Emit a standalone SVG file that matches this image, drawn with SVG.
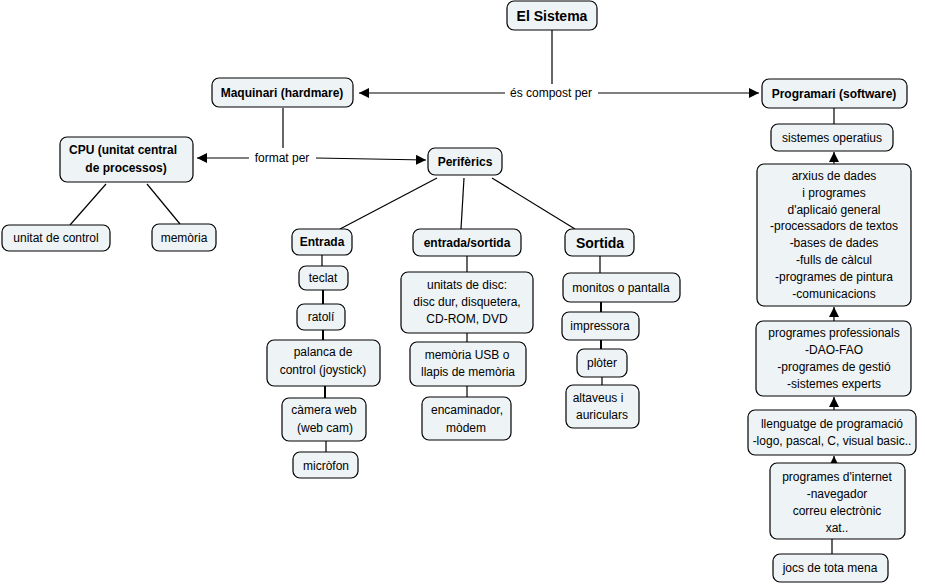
<svg xmlns="http://www.w3.org/2000/svg" width="925" height="585" viewBox="0 0 925 585">
<style>
.n{fill:#eef3f5;stroke:#000;stroke-width:1.2}
text{font-family:"Liberation Sans",Arial,sans-serif;font-size:12px;text-anchor:middle;fill:#000}
.b{font-weight:bold}
.c{stroke:#000;stroke-width:1.2;fill:none}
.t{stroke:#000;stroke-width:2;fill:none}
</style>
<defs>
<marker id="a" viewBox="0 0 10 10" refX="10" refY="5" markerWidth="10" markerHeight="10" markerUnits="userSpaceOnUse" orient="auto">
<path d="M0,0 L10,5 L0,10 z" fill="#000"/>
</marker>
</defs>
<rect width="925" height="585" fill="#fff"/>
<g id="connectors">
<line class="c" x1="552" y1="30" x2="552" y2="84"/>
<line class="c" x1="505" y1="93" x2="359" y2="93" marker-end="url(#a)"/>
<line class="c" x1="598" y1="93" x2="759" y2="93" marker-end="url(#a)"/>
<line class="c" x1="283" y1="108" x2="283" y2="148"/>
<line class="c" x1="249" y1="158" x2="197" y2="158" marker-end="url(#a)"/>
<line class="c" x1="316" y1="158" x2="426" y2="160" marker-end="url(#a)"/>
<line class="c" x1="106" y1="184" x2="70" y2="225"/>
<line class="c" x1="147" y1="184" x2="180" y2="224"/>
<line class="c" x1="437" y1="178" x2="340" y2="229"/>
<line class="c" x1="464" y1="178" x2="461" y2="229"/>
<line class="c" x1="492" y1="178" x2="575" y2="229"/>
<line class="c" x1="322" y1="255" x2="322" y2="266"/>
<line class="t" x1="323" y1="290" x2="323" y2="304"/>
<line class="t" x1="323" y1="330" x2="323" y2="340"/>
<line class="t" x1="325" y1="386" x2="325" y2="398"/>
<line class="c" x1="326" y1="441" x2="326" y2="452"/>
<line class="c" x1="467" y1="256" x2="467" y2="272"/>
<line class="c" x1="467" y1="333" x2="467" y2="342"/>
<line class="c" x1="467" y1="386" x2="467" y2="397"/>
<line class="c" x1="600" y1="256" x2="600" y2="273"/>
<line class="t" x1="601" y1="302" x2="601" y2="312"/>
<line class="t" x1="601" y1="340" x2="601" y2="349"/>
<line class="c" x1="602" y1="377" x2="602" y2="385"/>
<line class="c" x1="834" y1="108" x2="834" y2="124"/>
<line class="c" x1="834" y1="164" x2="834" y2="152" marker-end="url(#a)"/>
<line class="c" x1="834" y1="321" x2="834" y2="307" marker-end="url(#a)"/>
<line class="c" x1="834" y1="410" x2="834" y2="397" marker-end="url(#a)"/>
<line class="c" x1="834" y1="463" x2="834" y2="456" marker-end="url(#a)"/>
<line class="c" x1="832" y1="539" x2="832" y2="554"/>
</g>
<g id="label-es-compost"><text x="551" y="97">és compost per</text></g>
<g id="label-format-per"><text x="282" y="162">format per</text></g>
<g id="el-sistema"><rect class="n" x="507" y="1" width="90" height="29" rx="7"/><text class="b" x="552" y="21" style="font-size:14px">El Sistema</text></g>
<g id="maquinari"><rect class="n" x="212" y="78" width="141" height="29" rx="7"/><text class="b" x="282" y="97">Maquinari (hardmare)</text></g>
<g id="programari"><rect class="n" x="762" y="79" width="145" height="29" rx="7"/><text class="b" x="834" y="98">Programari (software)</text></g>
<g id="cpu"><rect class="n" x="60" y="137" width="133" height="45" rx="7"/><text class="b" x="123" y="154">CPU (unitat central</text><text class="b" x="126" y="172">de processos)</text></g>
<g id="unitat-control"><rect class="n" x="2" y="225" width="108" height="26" rx="7"/><text x="56" y="242">unitat de control</text></g>
<g id="memoria"><rect class="n" x="152" y="224" width="64" height="27" rx="7"/><text x="184" y="242">memòria</text></g>
<g id="perifèrics"><rect class="n" x="428" y="148" width="74" height="27" rx="7"/><text class="b" x="465" y="166">Perifèrics</text></g>
<g id="entrada"><rect class="n" x="292" y="229" width="60" height="26" rx="7"/><text class="b" x="322" y="246">Entrada</text></g>
<g id="entrada-sortida"><rect class="n" x="413" y="229" width="108" height="27" rx="7"/><text class="b" x="467" y="247">entrada/sortida</text></g>
<g id="sortida"><rect class="n" x="565" y="229" width="69" height="27" rx="7"/><text class="b" x="600" y="248" style="font-size:14px">Sortida</text></g>
<g id="teclat"><rect class="n" x="299" y="266" width="49" height="24" rx="7"/><text x="323" y="282">teclat</text></g>
<g id="ratoli"><rect class="n" x="297" y="304" width="48" height="26" rx="7"/><text x="321" y="321">ratolí</text></g>
<g id="palanca"><rect class="n" x="267" y="340" width="113" height="46" rx="7"/><text x="323" y="356">palanca de</text><text x="323" y="374">control (joystick)</text></g>
<g id="camera"><rect class="n" x="282" y="398" width="84" height="43" rx="7"/><text x="324" y="414">càmera web</text><text x="325" y="432">(web cam)</text></g>
<g id="microfon"><rect class="n" x="293" y="452" width="65" height="26" rx="7"/><text x="326" y="470">micròfon</text></g>
<g id="unitats-disc"><rect class="n" x="401" y="272" width="132" height="61" rx="7"/><text x="467" y="289">unitats de disc:</text><text x="467" y="306">disc dur, disquetera,</text><text x="467" y="323">CD-ROM, DVD</text></g>
<g id="memoria-usb"><rect class="n" x="410" y="342" width="116" height="44" rx="7"/><text x="467" y="359">memòria USB o</text><text x="468" y="376">llapis de memòria</text></g>
<g id="encaminador"><rect class="n" x="422" y="397" width="89" height="43" rx="7"/><text x="467" y="414">encaminador,</text><text x="466" y="432">mòdem</text></g>
<g id="monitos"><rect class="n" x="563" y="273" width="117" height="29" rx="7"/><text x="621" y="292">monitos o pantalla</text></g>
<g id="impressora"><rect class="n" x="562" y="312" width="77" height="28" rx="7"/><text x="600" y="330">impressora</text></g>
<g id="ploter"><rect class="n" x="577" y="349" width="50" height="28" rx="7"/><text x="602" y="367">plòter</text></g>
<g id="altaveus"><rect class="n" x="566" y="385" width="73" height="43" rx="7"/><text x="598" y="402">altaveus i</text><text x="602" y="419">auriculars</text></g>
<g id="sistemes-operatius"><rect class="n" x="771" y="124" width="122" height="27" rx="7"/><text x="832" y="142">sistemes operatius</text></g>
<g id="arxius"><rect class="n" x="757" y="164" width="154" height="142" rx="7"/>
<text x="834" y="180">arxius de dades</text><text x="834" y="197">i programes</text><text x="834" y="214">d'aplicaió general</text><text x="834" y="230">-processadors de textos</text><text x="834" y="247">-bases de dades</text><text x="834" y="264">-fulls de càlcul</text><text x="834" y="281">-programes de pintura</text><text x="834" y="298">-comunicacions</text></g>
<g id="professionals"><rect class="n" x="756" y="321" width="155" height="75" rx="7"/><text x="834" y="337">programes professionals</text><text x="834" y="354">-DAO-FAO</text><text x="834" y="371">-programes de gestió</text><text x="834" y="388">-sistemes experts</text></g>
<g id="llenguatge"><rect class="n" x="748" y="410" width="168" height="45" rx="7"/><text x="832" y="428">llenguatge de programació</text><text x="832" y="445">-logo, pascal, C, visual basic..</text></g>
<g id="internet"><rect class="n" x="770" y="463" width="135" height="76" rx="7"/><text x="837" y="481">programes d'internet</text><text x="837" y="498">-navegador</text><text x="837" y="515">correu electrònic</text><text x="837" y="532">xat..</text></g>
<g id="jocs"><rect class="n" x="773" y="554" width="115" height="28" rx="7"/><text x="830" y="572">jocs de tota mena</text></g>
</svg>
